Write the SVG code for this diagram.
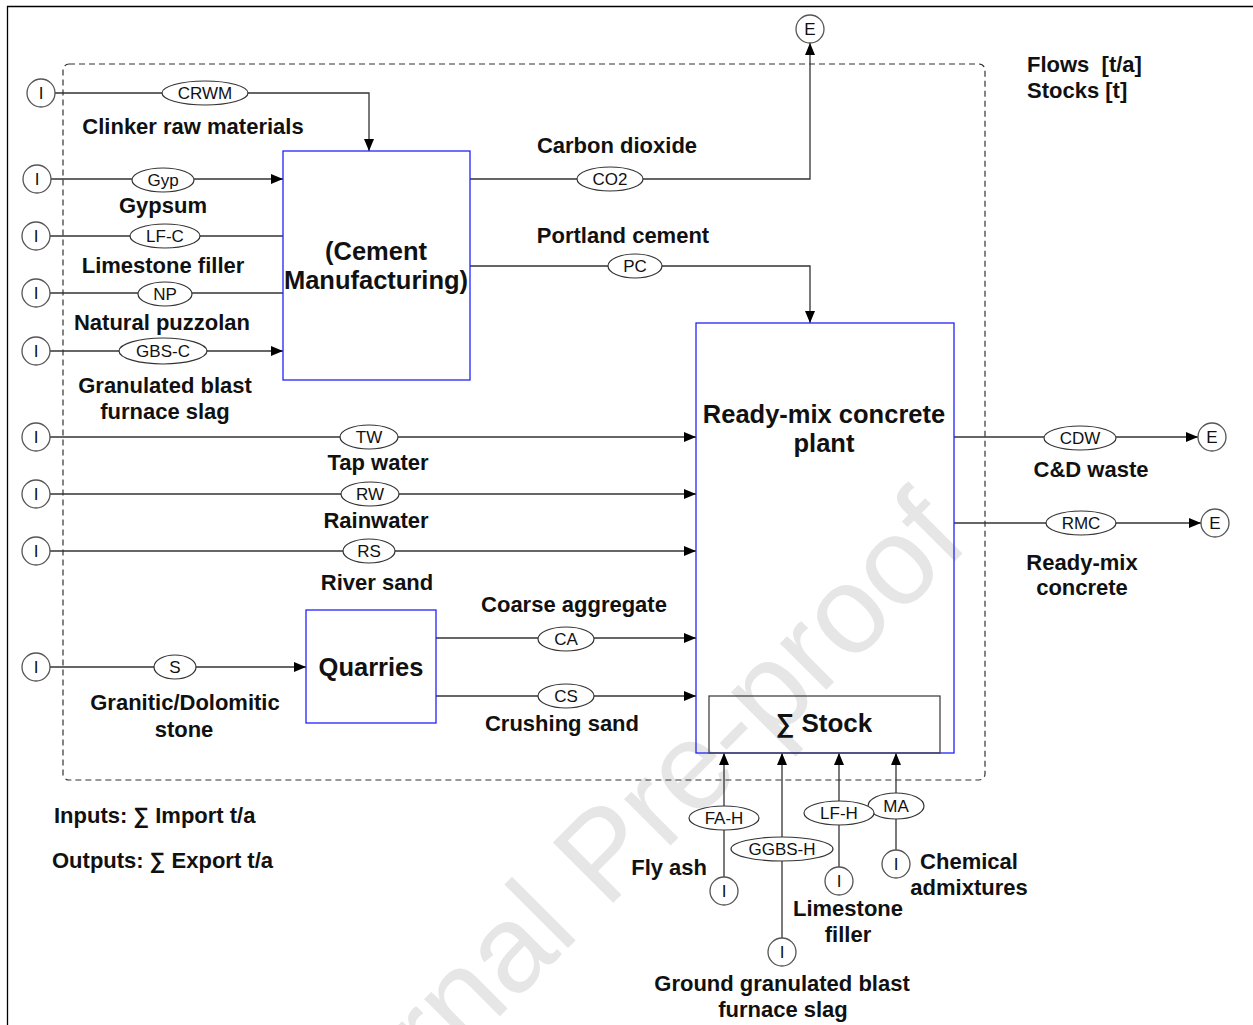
<svg xmlns="http://www.w3.org/2000/svg" width="1253" height="1025" viewBox="0 0 1253 1025">
<defs>
<marker id="arr" markerUnits="userSpaceOnUse" markerWidth="13" markerHeight="11" refX="12" refY="5" orient="auto">
<path d="M0,0 L12,5 L0,10 z" fill="#000"/>
</marker>
<style>
.ln{fill:none;stroke:#333;stroke-width:1.3}
.la{fill:none;stroke:#333;stroke-width:1.3;marker-end:url(#arr)}
.ell{fill:#fff;stroke:#333;stroke-width:1.2}
.io{fill:#fff;stroke:#555;stroke-width:1.3}
.box{fill:none;stroke:#2222ff;stroke-width:1.3}
.stk{fill:none;stroke:#444;stroke-width:1.3}
.tag{font-family:"Liberation Sans",Arial,sans-serif;font-size:17px;text-anchor:middle;fill:#111}
.lbl{font-family:"Liberation Sans",Arial,sans-serif;font-weight:bold;font-size:22px;text-anchor:middle;fill:#111}
.lbs{font-family:"Liberation Sans",Arial,sans-serif;font-weight:bold;font-size:22px;fill:#111;white-space:pre}
.big{font-family:"Liberation Sans",Arial,sans-serif;font-weight:bold;font-size:25.5px;text-anchor:middle;fill:#111}
.wm{font-family:"Liberation Sans",Arial,sans-serif;font-size:124px;fill:#e6e6e6}
</style>
</defs>
<rect width="1253" height="1025" fill="#fff"/>
<text class="wm" x="294" y="1222" transform="rotate(-45 294 1222)">Journal Pre-proof</text>
<path d="M7.5,1025 V6.5 H1253" fill="none" stroke="#000" stroke-width="1.3"/>
<rect x="63" y="64" width="922" height="716" rx="6" fill="none" stroke="#333" stroke-width="1.2" stroke-dasharray="6 4"/>

<g id="connectors">
<path class="la" d="M55,93 H369 V151"/>
<path class="la" d="M51,179 H283"/>
<path class="ln" d="M50,236 H283"/>
<path class="ln" d="M50,293 H283"/>
<path class="la" d="M50,351 H283"/>
<path class="la" d="M470,179 H810 V43"/>
<path class="la" d="M470,266 H810 V323"/>
<path class="la" d="M50,437 H696"/>
<path class="la" d="M50,494 H696"/>
<path class="la" d="M50,551 H696"/>
<path class="la" d="M50,667 H306"/>
<path class="la" d="M436,638 H696"/>
<path class="la" d="M436,696 H696"/>
<path class="la" d="M954,437 H1198"/>
<path class="la" d="M954,523 H1201"/>
<path class="la" d="M724,877 V753"/>
<path class="la" d="M782,938 V753"/>
<path class="la" d="M839,867 V753"/>
<path class="la" d="M896,850 V753"/>
</g>

<g id="flow-tags">
<ellipse class="ell" cx="205" cy="93" rx="43" ry="12"/><text class="tag" x="205" y="99">CRWM</text>
<ellipse class="ell" cx="163" cy="180" rx="31" ry="12"/><text class="tag" x="163" y="186">Gyp</text>
<ellipse class="ell" cx="165" cy="236" rx="35" ry="12"/><text class="tag" x="165" y="242">LF-C</text>
<ellipse class="ell" cx="165" cy="294" rx="27" ry="12"/><text class="tag" x="165" y="300">NP</text>
<ellipse class="ell" cx="163" cy="351" rx="44" ry="13"/><text class="tag" x="163" y="357">GBS-C</text>
<ellipse class="ell" cx="610" cy="179" rx="33" ry="12"/><text class="tag" x="610" y="185">CO2</text>
<ellipse class="ell" cx="635" cy="266" rx="27" ry="12"/><text class="tag" x="635" y="272">PC</text>
<ellipse class="ell" cx="369" cy="437" rx="29" ry="12"/><text class="tag" x="369" y="443">TW</text>
<ellipse class="ell" cx="370" cy="494" rx="29" ry="12"/><text class="tag" x="370" y="500">RW</text>
<ellipse class="ell" cx="369" cy="551" rx="26" ry="12"/><text class="tag" x="369" y="557">RS</text>
<ellipse class="ell" cx="175" cy="667" rx="21" ry="12"/><text class="tag" x="175" y="673">S</text>
<ellipse class="ell" cx="566" cy="639" rx="28" ry="12"/><text class="tag" x="566" y="645">CA</text>
<ellipse class="ell" cx="566" cy="696" rx="28" ry="12"/><text class="tag" x="566" y="702">CS</text>
<ellipse class="ell" cx="1080" cy="438" rx="36" ry="12"/><text class="tag" x="1080" y="444">CDW</text>
<ellipse class="ell" cx="1081" cy="523" rx="35" ry="12"/><text class="tag" x="1081" y="529">RMC</text>
<ellipse class="ell" cx="724" cy="818" rx="35" ry="12"/><text class="tag" x="724" y="824">FA-H</text>
<ellipse class="ell" cx="782" cy="849" rx="51" ry="12"/><text class="tag" x="782" y="855">GGBS-H</text>
<ellipse class="ell" cx="896" cy="806" rx="28" ry="13"/><text class="tag" x="896" y="812">MA</text>
<ellipse class="ell" cx="839" cy="813" rx="35" ry="12"/><text class="tag" x="839" y="819">LF-H</text>
</g>

<g id="cement">
<rect class="box" x="283" y="151" width="187" height="229"/>
<text class="big" x="376" y="260">(Cement</text>
<text class="big" x="376" y="289">Manufacturing)</text>
</g>
<g id="readymix">
<rect class="box" x="696" y="323" width="258" height="430"/>
<text class="big" x="824" y="423">Ready-mix concrete</text>
<text class="big" x="824" y="452">plant</text>
</g>
<g id="stock">
<rect class="stk" x="709" y="696" width="231" height="57"/>
<text class="big" x="824" y="732" style="font-size:26px">∑ Stock</text>
</g>
<g id="quarries">
<rect class="box" x="306" y="610" width="130" height="113"/>
<text class="big" x="371" y="676">Quarries</text>
</g>

<g id="import-nodes">
<g id="i-crwm"><circle class="io" cx="41" cy="93" r="14"/><text class="tag" x="41" y="99">I</text></g>
<g id="i-gyp"><circle class="io" cx="37" cy="179" r="14"/><text class="tag" x="37" y="185">I</text></g>
<g id="i-lfc"><circle class="io" cx="36" cy="236" r="14"/><text class="tag" x="36" y="242">I</text></g>
<g id="i-np"><circle class="io" cx="36" cy="293" r="14"/><text class="tag" x="36" y="299">I</text></g>
<g id="i-gbsc"><circle class="io" cx="36" cy="351" r="14"/><text class="tag" x="36" y="357">I</text></g>
<g id="i-tw"><circle class="io" cx="36" cy="437" r="14"/><text class="tag" x="36" y="443">I</text></g>
<g id="i-rw"><circle class="io" cx="36" cy="494" r="14"/><text class="tag" x="36" y="500">I</text></g>
<g id="i-rs"><circle class="io" cx="36" cy="551" r="14"/><text class="tag" x="36" y="557">I</text></g>
<g id="i-s"><circle class="io" cx="36" cy="667" r="14"/><text class="tag" x="36" y="673">I</text></g>
<g id="i-fah"><circle class="io" cx="724" cy="891" r="14"/><text class="tag" x="724" y="897">I</text></g>
<g id="i-ggbsh"><circle class="io" cx="782" cy="952" r="14"/><text class="tag" x="782" y="958">I</text></g>
<g id="i-lfh"><circle class="io" cx="839" cy="881" r="14"/><text class="tag" x="839" y="887">I</text></g>
<g id="i-ma"><circle class="io" cx="896" cy="864" r="14"/><text class="tag" x="896" y="870">I</text></g>
</g>
<g id="export-nodes">
<g id="e-co2"><circle class="io" cx="810" cy="29" r="14"/><text class="tag" x="810" y="35">E</text></g>
<g id="e-cdw"><circle class="io" cx="1212" cy="437" r="14"/><text class="tag" x="1212" y="443">E</text></g>
<g id="e-rmc"><circle class="io" cx="1215" cy="523" r="14"/><text class="tag" x="1215" y="529">E</text></g>
</g>

<g id="labels">
<text class="lbl" x="193" y="134">Clinker raw materials</text>
<text class="lbl" x="163" y="213">Gypsum</text>
<text class="lbl" x="163" y="273">Limestone filler</text>
<text class="lbl" x="162" y="330">Natural puzzolan</text>
<text class="lbl" x="165" y="393">Granulated blast</text>
<text class="lbl" x="165" y="419">furnace slag</text>
<text class="lbl" x="617" y="153">Carbon dioxide</text>
<text class="lbl" x="623" y="243">Portland cement</text>
<text class="lbl" x="378" y="470">Tap water</text>
<text class="lbl" x="376" y="528">Rainwater</text>
<text class="lbl" x="377" y="590">River sand</text>
<text class="lbl" x="574" y="612">Coarse aggregate</text>
<text class="lbl" x="185" y="710">Granitic/Dolomitic</text>
<text class="lbl" x="184" y="737">stone</text>
<text class="lbl" x="562" y="731">Crushing sand</text>
<text class="lbl" x="1091" y="477">C&amp;D waste</text>
<text class="lbl" x="1082" y="570">Ready-mix</text>
<text class="lbl" x="1082" y="595">concrete</text>
<text class="lbs" x="1027" y="72">Flows  [t/a]</text>
<text class="lbs" x="1027" y="98">Stocks [t]</text>
<text class="lbs" x="54" y="823">Inputs: ∑ Import t/a</text>
<text class="lbs" x="52" y="868">Outputs: ∑ Export t/a</text>
<text class="lbl" x="707" y="875" style="text-anchor:end">Fly ash</text>
<text class="lbl" x="969" y="869">Chemical</text>
<text class="lbl" x="969" y="895">admixtures</text>
<text class="lbl" x="848" y="916">Limestone</text>
<text class="lbl" x="848" y="942">filler</text>
<text class="lbl" x="782" y="991">Ground granulated blast</text>
<text class="lbl" x="783" y="1017">furnace slag</text>
</g>
</svg>
